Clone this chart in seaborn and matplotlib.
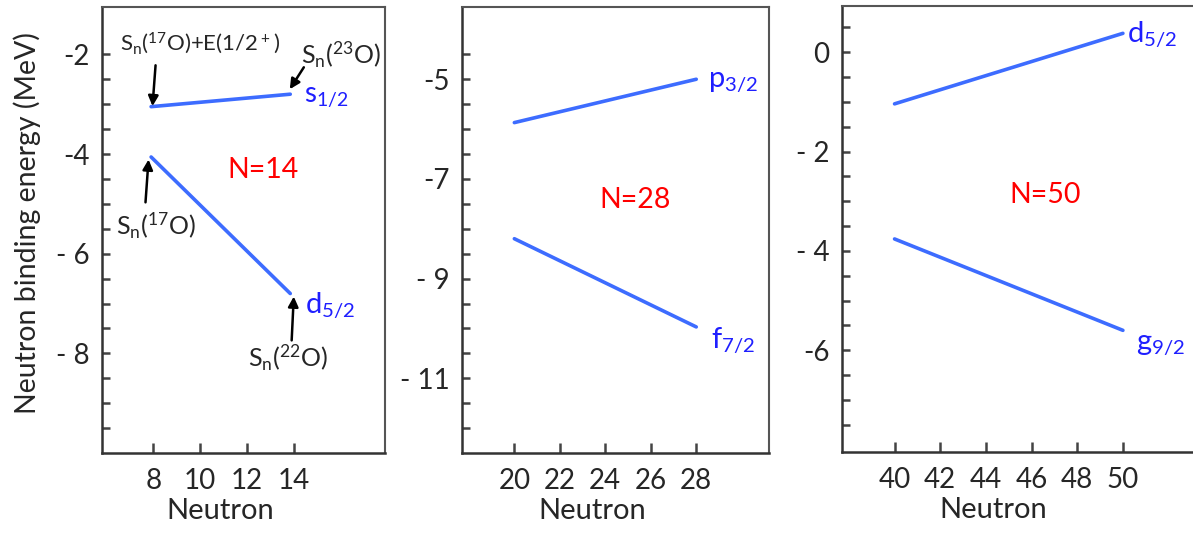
import numpy as np
import pandas as pd
import matplotlib
matplotlib.use('Agg')
import matplotlib.pyplot as plt
import seaborn as sns

# data
n14_x = [7.9, 13.85]
n14_s12 = [-3.05, -2.8]
n14_d52 = [-4.06, -6.8]

n28_x = [20, 28]
n28_p32 = [-5.87, -5.0]
n28_f72 = [-8.2, -9.97]

n50_x = [40, 50]
n50_d52 = [-1.04, 0.38]
n50_g92 = [-3.76, -5.6]

sns.set_style('white')
plt.rcParams['font.family'] = ['Lato', 'DejaVu Sans']
plt.rcParams['mathtext.fontset'] = 'custom'
plt.rcParams['mathtext.rm'] = 'Lato'

line_col = '#3d6cff'
lab_col = '#1f1fff'

fig = plt.figure(figsize=(11.93, 5.42), dpi=100)
ax1 = fig.add_axes([0.0855, 0.1642, 0.2372, 0.8229])
ax2 = fig.add_axes([0.3873, 0.1642, 0.2573, 0.8229])
ax3 = fig.add_axes([0.7058, 0.166, 0.2967, 0.8229])


def draw(ax, x, lines):
    for y in lines:
        df = pd.DataFrame({'N': x, 'E': y})
        sns.lineplot(data=df, x='N', y='E', ax=ax, color=line_col, lw=2.6)


def style(ax, xlim, ylim, xt, yt, ytl, yminor, lx):
    ax.set_xlim(*xlim)
    ax.set_ylim(*ylim)
    ax.set_xticks(xt)
    ax.set_xticklabels([str(v) for v in xt])
    ax.set_yticks(yt)
    ax.set_yticklabels(ytl)
    ax.set_yticks(yminor, minor=True)
    ax.tick_params(which='both', direction='in', length=6, width=1.8,
                   color='#444444', labelsize=20, pad=9, left=True, bottom=True)
    ax.tick_params(axis='x', which='both', length=7, pad=11)
    for s in ['left', 'bottom']:
        ax.spines[s].set_color('#333333')
        ax.spines[s].set_linewidth(1.8)
    for s in ['top', 'right']:
        ax.spines[s].set_color('#555555')
        ax.spines[s].set_linewidth(1.5)
    ax.set_xlabel('Neutron', fontsize=21)
    ax.xaxis.set_label_coords(lx, -0.13)
    ax.xaxis.label.set_va('center')
    ax.set_ylabel('')


draw(ax1, n14_x, [n14_s12, n14_d52])
draw(ax2, n28_x, [n28_p32, n28_f72])
draw(ax3, n50_x, [n50_d52, n50_g92])

style(ax1, (5.8, 17.9), (-10, -1.05), [8, 10, 12, 14], [-2, -4, -6, -8],
      ['-2', '-4', '- 6', '- 8'], np.arange(-2.5, -9.6, -0.5), 0.417)
style(ax2, (17.7, 31.2), (-12.5, -3.55), [20, 22, 24, 26, 28], [-5, -7, -9, -11],
      ['-5', '-7', '- 9', '- 11'], np.arange(-4.5, -12.1, -0.5), 0.423)
style(ax3, (37.7, 53.2), (-8.05, 0.93), [40, 42, 44, 46, 48, 50], [0, -2, -4, -6],
      ['0', '- 2', '- 4', '-6'], np.arange(0.5, -7.6, -0.5), 0.427)

# labels of the orbitals
ax1.text(14.43, -2.86, r'$\mathregular{s_{1/2}}$', color=lab_col, fontsize=20, va='center')
ax1.text(14.5, -7.04, r'$\mathregular{d_{5/2}}$', color=lab_col, fontsize=21, va='center')
ax2.text(28.53, -5.06, r'$\mathregular{p_{3/2}}$', color=lab_col, fontsize=21, va='center')
ax2.text(28.66, -10.25, r'$\mathregular{f_{7/2}}$', color=lab_col, fontsize=21, va='center')
ax3.text(50.2, 0.34, r'$\mathregular{d_{5/2}}$', color=lab_col, fontsize=21, va='center')
ax3.text(50.57, -5.9, r'$\mathregular{g_{9/2}}$', color=lab_col, fontsize=21, va='center')

ax1.text(12.67, -4.33, 'N=14', color='red', fontsize=20.5, ha='center', va='center')
ax2.text(25.3, -7.43, 'N=28', color='red', fontsize=20.5, ha='center', va='center')
ax3.text(46.6, -2.88, 'N=50', color='red', fontsize=20.5, ha='center', va='center')

# Sn annotations with arrows
arr = dict(arrowstyle='-|>,head_length=0.6,head_width=0.3', color='black', lw=1.8,
           shrinkA=0, shrinkB=0)
ax1.annotate('', xy=(7.96, -3.04), xytext=(8.09, -2.22), arrowprops=arr)
ax1.annotate('', xy=(13.83, -2.70), xytext=(14.43, -2.26), arrowprops=arr)
ax1.annotate('', xy=(7.79, -4.11), xytext=(7.66, -4.97), arrowprops=arr)
ax1.annotate('', xy=(14.0, -6.86), xytext=(13.91, -7.74), arrowprops=arr)

ax1.text(10.0, -1.78, r'$\mathregular{S_n(^{17}O)}$+E(1/2$\mathregular{^+}$)', fontsize=16,
         ha='center', va='center')
ax1.text(16.0, -2.02, r'$\mathregular{S_n(^{23}O)}$', fontsize=18, ha='center', va='center')
ax1.text(8.09, -5.45, r'$\mathregular{S_n(^{17}O)}$', fontsize=18, ha='center', va='center')
ax1.text(13.74, -8.10, r'$\mathregular{S_n(^{22}O)}$', fontsize=18, ha='center', va='center')

fig.text(0.0226, 1 - 223 / 542, 'Neutron binding energy (MeV)', rotation=90,
         fontsize=20.5, ha='center', va='center')

fig.savefig('out.png', dpi=100)
